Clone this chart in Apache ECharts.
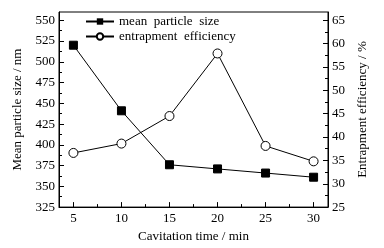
<!DOCTYPE html>
<html>
<head>
<meta charset="utf-8">
<script src="https://cdn.jsdelivr.net/npm/echarts@6/dist/echarts.min.js"></script>
<style>
  html, body { margin: 0; padding: 0; background: #fff; }
  #chart { width: 384px; height: 248px; }
</style>
</head>
<body>
<div id="chart"></div>
<script>
  // 数据
  const times = [5, 10, 15, 20, 25, 30]
  const particleSize = [520, 441, 376, 371, 366, 361]
  const efficiency = [36.6, 38.6, 44.5, 57.9, 38.1, 34.8]

  // 刻度
  const xTicks = [5, 10, 15, 20, 25, 30]
  const xMinor = [7.5, 12.5, 17.5, 22.5, 27.5]
  const leftTicks = [325, 350, 375, 400, 425, 450, 475, 500, 525, 550]
  const leftMinor = [337.5, 362.5, 387.5, 412.5, 437.5, 462.5, 487.5, 512.5, 537.5]
  const rightTicks = [25, 30, 35, 40, 45, 50, 55, 60, 65]
  const rightMinor = [27.5, 32.5, 37.5, 42.5, 47.5, 52.5, 57.5, 62.5]

  const font = 'Liberation Serif'
  const black = '#000'

  const chart = echarts.init(document.getElementById('chart'))

  const lineAxis = { lineStyle: { color: black, width: 1 } }

  const option = {
    animation: false,
    grid: {
      left: 59, right: 56, top: 12, bottom: 37,
      show: true, borderColor: black, borderWidth: 1
    },
    legend: {
      orient: 'vertical',
      left: 80,
      top: 10,
      itemWidth: 28,
      itemHeight: 8,
      itemGap: 2,
      textStyle: { fontFamily: font, fontSize: 13, color: black },
      data: ['mean  particle  size', 'entrapment  efficiency']
    },
    xAxis: [
      {
        type: 'value', min: 3.5, max: 31.5,
        name: 'Cavitation time / min',
        nameLocation: 'middle', nameGap: 22,
        nameTextStyle: { fontFamily: font, fontSize: 13, color: black },
        axisLine: lineAxis,
        axisTick: { inside: true, length: 5, customValues: xTicks, lineStyle: { color: black } },
        axisLabel: { customValues: xTicks, fontFamily: font, fontSize: 13, color: black, margin: 5 },
        splitLine: { show: false }
      },
      {
        type: 'value', min: 3.5, max: 31.5, position: 'bottom',
        axisLine: { show: false },
        axisTick: { inside: true, length: 3, customValues: xMinor, lineStyle: { color: black } },
        axisLabel: { show: false },
        splitLine: { show: false }
      }
    ],
    yAxis: [
      {
        type: 'value', min: 325, max: 560, position: 'left',
        name: 'Mean particle size / nm',
        nameLocation: 'middle', nameGap: 35,
        nameTextStyle: { fontFamily: font, fontSize: 13, color: black },
        axisLine: lineAxis,
        axisTick: { inside: true, length: 5, customValues: leftTicks, lineStyle: { color: black } },
        axisLabel: { customValues: leftTicks, fontFamily: font, fontSize: 13, color: black, margin: 4 },
        splitLine: { show: false }
      },
      {
        type: 'value', min: 25, max: 66.78, position: 'right',
        name: 'Entrapment efficiency / %',
        nameLocation: 'middle', nameGap: 28,
        nameRotate: 90,
        nameTextStyle: { fontFamily: font, fontSize: 13, color: black },
        axisLine: lineAxis,
        axisTick: { inside: true, length: 5, customValues: rightTicks, lineStyle: { color: black } },
        axisLabel: { customValues: rightTicks, fontFamily: font, fontSize: 13, color: black, margin: 4 },
        splitLine: { show: false }
      },
      {
        type: 'value', min: 325, max: 560, position: 'left',
        axisLine: { show: false },
        axisTick: { inside: true, length: 3, customValues: leftMinor, lineStyle: { color: black } },
        axisLabel: { show: false },
        splitLine: { show: false }
      },
      {
        type: 'value', min: 25, max: 66.78, position: 'right',
        axisLine: { show: false },
        axisTick: { inside: true, length: 3, customValues: rightMinor, lineStyle: { color: black } },
        axisLabel: { show: false },
        splitLine: { show: false }
      }
    ],
    series: [
      {
        name: 'mean  particle  size',
        type: 'line',
        yAxisIndex: 0,
        data: times.map((t, i) => [t, particleSize[i]]),
        symbol: 'rect',
        symbolSize: 8,
        lineStyle: { color: black, width: 1 },
        itemStyle: { color: black, borderColor: black }
      },
      {
        name: 'entrapment  efficiency',
        type: 'line',
        yAxisIndex: 1,
        data: times.map((t, i) => [t, efficiency[i]]),
        symbol: 'circle',
        symbolSize: 9,
        lineStyle: { color: black, width: 1 },
        itemStyle: { color: '#fff', borderColor: black, borderWidth: 1 }
      }
    ]
  }

  chart.setOption(option)
</script>
</body>
</html>
